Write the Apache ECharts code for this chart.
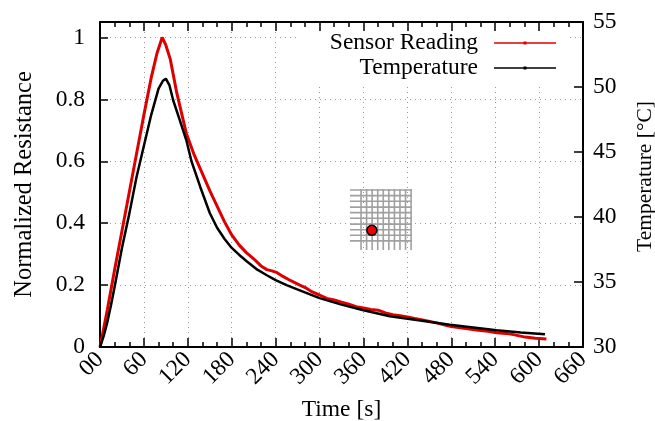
<!DOCTYPE html>
<html><head><meta charset="utf-8">
<script src="https://cdn.jsdelivr.net/npm/echarts@6/dist/echarts.min.js"></script>
<style>html,body{margin:0;padding:0;background:#fff}#c{width:655px;height:421px}</style>
</head><body><div id="c"></div>
<script>
// ---- data ----
const sensorTime = [0,10,20,30,40,50,60,70,78,85,90,96,105,112,118,128,139,150,160,170,180,190,200,210,220,228,235,242,250,260,273,282,290,300,310,320,330,340,350,360,370,380,390,400,410,420,430,444,460,470,480,490,500,517,530,542,555,565,581,595,610];
const sensorValue = [0,0.12,0.25,0.375,0.5,0.625,0.75,0.87,0.95,1.0,0.975,0.93,0.82,0.75,0.69,0.625,0.565,0.505,0.455,0.405,0.362,0.33,0.305,0.285,0.262,0.25,0.246,0.24,0.228,0.215,0.2,0.19,0.178,0.168,0.157,0.152,0.145,0.138,0.13,0.126,0.121,0.119,0.11,0.104,0.101,0.097,0.092,0.086,0.078,0.072,0.066,0.063,0.06,0.054,0.051,0.046,0.044,0.04,0.032,0.028,0.026];
const tempTime = [0,5,10,15,20,30,40,50,60,70,80,86,90,95,100,109,118,125,137,150,160,170,180,190,200,215,228,240,255,273,300,330,360,396,440,478,510,542,575,608];
const tempValue = [30.00,30.83,31.90,33.21,34.64,37.62,40.24,43.10,45.48,47.86,49.88,50.48,50.64,50.12,48.98,47.45,45.90,44.29,42.31,40.31,39.17,38.33,37.62,37.10,36.62,35.95,35.52,35.14,34.76,34.36,33.76,33.26,32.83,32.36,32.02,31.71,31.50,31.29,31.12,30.98];
const xTickLabels = ['00','60','120','180','240','300','360','420','480','540','600','660'];
const seriesNames = ['Sensor Reading','Temperature'];
const axisNames = {x:'Time [s]', yLeft:'Normalized Resistance', yRight:'Temperature [°C]'};
// inset icon (grid with marker), in data units
const insetRowValues = [0.507,0.489,0.471,0.452,0.434,0.416,0.397,0.379,0.361,0.343];
const insetRowSpan = [341.6,426.3];
const insetColTimes = [356.7,364.3,371.9,379.5,387.1,394.7,402.3,409.9,417.5,425.1];
const insetColSpan = [0.3135,0.5105];
const markerPoint = [371.5,0.377];

// ---- build ----
const FONT = 'Liberation Serif';
const FS = 23.5;
const sensorData = sensorTime.map((t,i)=>[t,sensorValue[i]]);
const tempData = tempTime.map((t,i)=>[t,tempValue[i]]);
const insetSegs = [];
insetRowValues.forEach(v=>insetSegs.push([insetRowSpan[0],v,insetRowSpan[1],v]));
insetColTimes.forEach(t=>insetSegs.push([t,insetColSpan[0],t,insetColSpan[1]]));

const chart = echarts.init(document.getElementById('c'), null, {renderer:'canvas'});
const axisLineStyle = {color:'#000', width:2};
const gridLine = {show:true, lineStyle:{color:'#999', width:1, type:[1,4]}};
chart.setOption({
  animation:false,
  textStyle:{fontFamily:FONT, color:'#000'},
  grid:{left:100, right:72, top:22, bottom:74, containLabel:false, outerBoundsMode:'none'},
  legend:{
    orient:'vertical', right:87, top:22, align:'right',
    backgroundColor:'#fff', padding:[9,12,4,33], itemGap:1,
    itemWidth:62, itemHeight:9, selectedMode:false,
    icon:'path://M0,4L62,4L62,5.4L0,5.4Z M29.5,3.2L32.5,3.2L32.5,6.2L29.5,6.2Z',
    textStyle:{fontSize:FS, fontFamily:FONT, color:'#000', padding:[0,11,0,0]},
    data:seriesNames
  },
  xAxis:[{
    type:'value', min:0, max:660, interval:60, position:'bottom',
    name:axisNames.x, nameLocation:'middle', nameGap:51, nameMoveOverlap:false,
    nameTextStyle:{fontSize:FS, fontFamily:FONT, color:'#000'},
    axisLine:{show:true, onZero:false, lineStyle:axisLineStyle},
    axisTick:{show:true, inside:true, length:9, lineStyle:{color:'#000', width:1.5}},
    minorTick:{show:true, splitNumber:3, length:5, lineStyle:{color:'#000', width:1.5}},
    axisLabel:{rotate:45, margin:9, fontSize:FS, fontFamily:FONT, color:'#000',
      formatter:v=>xTickLabels[Math.round(v/60)]},
    splitLine:gridLine
  },{
    type:'value', min:0, max:660, interval:60, position:'top', z:10,
    axisLine:{show:true, onZero:false, lineStyle:axisLineStyle},
    axisTick:{show:true, inside:true, length:9, lineStyle:{color:'#000', width:1.5}},
    minorTick:{show:true, splitNumber:3, length:5, lineStyle:{color:'#000', width:1.5}},
    axisLabel:{show:false}, splitLine:{show:false}
  }],
  yAxis:[{
    type:'value', min:0, max:1.05, interval:0.2, position:'left',
    name:axisNames.yLeft, nameLocation:'middle', nameRotate:90, nameGap:63, nameMoveOverlap:false,
    nameTextStyle:{fontSize:24.5, fontFamily:FONT, color:'#000'},
    axisLine:{show:true, onZero:false, lineStyle:axisLineStyle},
    axisTick:{show:true, inside:true, length:8, lineStyle:{color:'#000', width:1.5}},
    axisLabel:{margin:15, fontSize:FS, fontFamily:FONT, color:'#000',
      formatter:v=> v>1.001 ? '' : String(Math.round(v*10)/10)},
    splitLine:gridLine
  },{
    type:'value', min:30, max:55, interval:5, position:'right',
    name:axisNames.yRight, nameLocation:'middle', nameRotate:90, nameGap:51, nameMoveOverlap:false,
    nameTextStyle:{fontSize:21.5, fontFamily:FONT, color:'#000', padding:[0,0,0,16]},
    axisLine:{show:true, onZero:false, lineStyle:axisLineStyle},
    axisTick:{show:true, inside:true, length:9, lineStyle:{color:'#000', width:1.5}},
    axisLabel:{margin:10, fontSize:FS, fontFamily:FONT, color:'#000'},
    splitLine:{show:false}
  }],
  series:[
    {name:seriesNames[0], type:'line', xAxisIndex:0, yAxisIndex:0, data:sensorData,
     symbol:'none', lineStyle:{color:'#dd0000', width:3}, itemStyle:{color:'#dd0000'}, z:3},
    {name:seriesNames[1], type:'line', xAxisIndex:0, yAxisIndex:1, data:tempData,
     symbol:'none', lineStyle:{color:'#000', width:2.5}, itemStyle:{color:'#000'}, z:4},
    {type:'custom', xAxisIndex:0, yAxisIndex:0, data:insetSegs, clip:false, z:2,
     encode:{x:[0,2], y:[1,3]},
     renderItem:(params, api)=>{
       const p1 = api.coord([api.value(0), api.value(1)]);
       const p2 = api.coord([api.value(2), api.value(3)]);
       return {type:'line', shape:{x1:p1[0],y1:p1[1],x2:p2[0],y2:p2[1]},
               style:{stroke:'#a0a0a0', lineWidth:1.6}};
     }},
    {type:'scatter', xAxisIndex:0, yAxisIndex:0, data:[markerPoint], symbol:'circle', symbolSize:10,
     itemStyle:{color:'#ee0000', borderColor:'#000', borderWidth:1.5, opacity:1}, z:5}
  ]
});
</script>
</body></html>
